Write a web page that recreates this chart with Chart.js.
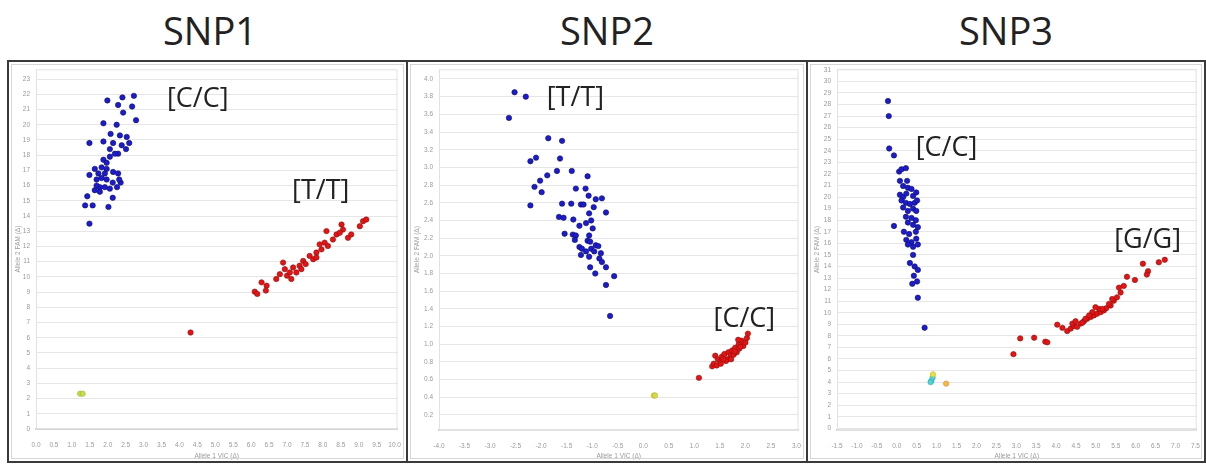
<!DOCTYPE html>
<html>
<head>
<meta charset="utf-8">
<script src="https://cdn.jsdelivr.net/npm/chart.js@4.4.1/dist/chart.umd.min.js"></script>
<style>
  html, body { margin: 0; padding: 0; background: #ffffff; }
  body { width: 1206px; height: 465px; position: relative; overflow: hidden; font-family: "Open Sans", sans-serif; }
  .title { position: absolute; top: 4px; width: 300px; text-align: center; font-size: 38px; color: #222; line-height: 52px; }
  .panel { position: absolute; top: 60px; height: 403px; }
  .panel canvas { position: absolute; left: 0; top: 0; }
  .frame { position: absolute; top: 60px; height: 403px; box-sizing: border-box; border: 2px solid #3a3a3a; pointer-events: none; }
  .inner { position: absolute; left: 2px; top: 2px; right: 2px; bottom: 2px; border: 1px solid #d6d6d6; }
</style>
</head>
<body>
<div class="title" style="left:60px;">SNP1</div>
<div class="title" style="left:457px;">SNP2</div>
<div class="title" style="left:856px;">SNP3</div>

<div class="panel" style="left:7px;width:399px;"><canvas id="c1" width="399" height="403"></canvas></div>
<div class="panel" style="left:406px;width:400px;"><canvas id="c2" width="400" height="403"></canvas></div>
<div class="panel" style="left:806px;width:399px;"><canvas id="c3" width="399" height="403"></canvas></div>
<div class="frame" style="left:7px;width:401px;"><div class="inner"></div></div>
<div class="frame" style="left:406px;width:402px;"><div class="inner"></div></div>
<div class="frame" style="left:806px;width:400px;"><div class="inner"></div></div>

<script>
// ---------------- DATA ----------------
const xTitle = "Allele 1 VIC (Δ)";
const yTitle = "Allele 2 FAM (Δ)";

// SNP1
const snp1XLabels = ["0.0","0.5","1.0","1.5","2.0","2.5","3.0","3.5","4.0","4.5","5.0","5.5","6.0","6.5","7.0","7.5","8.0","8.5","9.0","9.5","10.0"];
const snp1YLabels = ["0","1","2","3","4","5","6","7","8","9","10","11","12","13","14","15","16","17","18","19","20","21","22","23"];
const snp1Blue = [[1.99,21.6],[2.41,21.8],[2.73,21.9],[2.29,21.3],[2.68,21.2],[2.43,20.8],[2.79,20.3],[1.88,20.1],[2.25,20.0],[2.08,19.4],[2.34,19.3],[2.53,19.2],[1.49,18.8],[1.88,18.9],[2.15,18.8],[2.60,18.8],[2.39,18.65],[2.06,18.4],[2.51,18.4],[2.29,18.1],[1.88,17.7],[2.06,17.9],[1.64,17.1],[1.83,17.2],[1.97,17.1],[1.49,16.7],[1.74,16.8],[1.92,16.8],[2.15,16.9],[2.29,16.8],[1.69,16.4],[1.83,16.5],[1.97,16.4],[2.14,16.2],[2.36,16.2],[1.78,15.9],[1.92,15.9],[2.06,15.8],[1.64,15.7],[2.26,15.9],[1.43,15.3],[2.14,15.2],[1.78,15.6],[1.37,14.7],[1.58,14.7],[2.02,14.6],[1.49,13.5],[1.97,17.5],[2.20,18.1],[1.69,16.0],[2.32,16.4]];
const snp1Red = [[6.10,9.03],[6.17,8.88],[6.29,9.64],[6.43,9.42],[6.41,9.10],[6.70,9.86],[6.80,10.18],[6.89,10.94],[6.94,10.51],[7.00,10.08],[7.12,9.86],[7.17,10.62],[7.26,10.29],[7.35,10.73],[7.45,11.05],[7.52,10.84],[7.63,11.38],[7.73,11.16],[7.82,11.60],[7.96,11.81],[8.05,12.25],[8.14,12.03],[8.10,13.01],[8.28,12.46],[8.38,12.79],[8.52,13.44],[8.56,13.11],[8.70,12.57],[8.79,12.79],[9.03,13.33],[9.12,13.66],[9.21,13.77],[7.40,10.51],[7.08,10.29],[7.82,11.27],[8.47,12.90],[7.91,12.14],[4.31,6.34]];
const snp1Ntc = [[1.23,2.32],[1.30,2.32]];
const snp1Calls = [["[C/C]",4.51,21.7],["[T/T]",7.94,15.6]];

// SNP2
const snp2XLabels = ["-4.0","-3.5","-3.0","-2.5","-2.0","-1.5","-1.0","-0.5","0.0","0.5","1.0","1.5","2.0","2.5","3.0"];
const snp2YLabels = ["0.2","0.4","0.6","0.8","1.0","1.2","1.4","1.6","1.8","2.0","2.2","2.4","2.6","2.8","3.0","3.2","3.4","3.6","3.8","4.0"];
const snp2Blue = [[-2.52,3.85],[-2.30,3.80],[-2.63,3.56],[-1.86,3.33],[-1.59,3.30],[-2.21,3.07],[-2.10,3.11],[-1.63,3.10],[-1.88,2.91],[-1.69,2.96],[-1.40,2.96],[-1.09,2.90],[-2.02,2.85],[-2.13,2.78],[-1.99,2.72],[-1.32,2.76],[-1.13,2.76],[-2.21,2.57],[-1.59,2.59],[-1.41,2.59],[-1.22,2.58],[-1.17,2.58],[-1.07,2.68],[-0.93,2.64],[-0.81,2.65],[-0.97,2.55],[-0.73,2.49],[-1.65,2.44],[-1.56,2.43],[-1.06,2.48],[-1.37,2.41],[-1.12,2.37],[-1.25,2.34],[-1.02,2.40],[-0.99,2.31],[-1.54,2.25],[-1.38,2.24],[-1.32,2.23],[-1.06,2.23],[-1.34,2.18],[-1.09,2.17],[-1.04,2.16],[-1.25,2.10],[-1.20,2.08],[-0.93,2.12],[-0.88,2.11],[-1.02,2.08],[-1.12,2.05],[-0.96,2.05],[-0.83,2.03],[-1.22,2.01],[-1.06,1.99],[-0.86,1.97],[-0.81,1.93],[-1.04,1.87],[-0.73,1.87],[-0.94,1.80],[-0.57,1.77],[-0.73,1.67],[-0.65,1.32]];
const snp2Red = [[1.09,0.62],[1.35,0.75],[1.38,0.78],[1.41,0.87],[1.46,0.83],[1.51,0.80],[1.54,0.86],[1.59,0.89],[1.64,0.83],[1.67,0.91],[1.71,0.87],[1.74,0.93],[1.77,0.88],[1.80,0.96],[1.83,0.91],[1.87,1.00],[1.88,0.95],[1.93,1.04],[1.96,0.98],[2.00,1.02],[2.03,1.07],[2.05,1.12],[1.86,1.05],[1.44,0.76],[1.52,0.78],[1.62,0.81],[1.72,0.83],[1.57,0.83],[1.79,0.92],[1.90,0.97]];
const snp2Ntc = [[0.21,0.42],[0.23,0.42]];
const snp2Calls = [["[T/T]",-1.33,3.78],["[C/C]",1.98,1.28]];

// SNP3
const snp3XLabels = ["-1.5","-1.0","-0.5","0.0","0.5","1.0","1.5","2.0","2.5","3.0","3.5","4.0","4.5","5.0","5.5","6.0","6.5","7.0","7.5"];
const snp3YLabels = ["0","1","2","3","4","5","6","7","8","9","10","11","12","13","14","15","16","17","18","19","20","21","22","23","24","25","26","27","28","29","30","31"];
const snp3Blue = [[-0.22,28.3],[-0.20,27.0],[-0.19,24.2],[-0.07,23.6],[0.06,22.2],[0.12,22.4],[0.23,22.5],[0.26,21.4],[0.08,21.4],[0.16,20.95],[0.28,20.8],[0.37,20.7],[0.08,20.2],[0.16,20.0],[0.24,20.3],[0.41,20.1],[0.49,20.4],[0.12,19.7],[0.23,19.5],[0.33,19.4],[0.45,19.5],[0.51,19.7],[0.16,19.1],[0.28,18.8],[0.41,19.0],[0.49,18.8],[0.23,18.3],[0.37,18.2],[0.48,18.0],[0.28,17.8],[0.41,17.6],[0.53,17.4],[-0.07,17.5],[0.18,17.0],[0.31,16.8],[0.48,17.0],[0.24,16.3],[0.37,16.1],[0.49,16.4],[0.28,15.9],[0.41,15.7],[0.53,15.9],[0.41,15.0],[0.33,14.3],[0.45,14.0],[0.53,13.7],[0.43,13.2],[0.51,12.7],[0.39,12.5],[0.53,11.3],[0.70,8.7]];
const snp3Red = [[2.93,6.42],[3.10,7.78],[3.45,7.84],[3.73,7.50],[3.78,7.44],[4.03,8.97],[4.16,8.69],[4.28,8.41],[4.37,8.63],[4.45,8.86],[4.53,8.78],[4.62,9.06],[4.70,9.26],[4.78,9.48],[4.87,9.63],[4.95,9.77],[5.03,9.91],[5.12,10.05],[5.20,10.20],[5.26,10.39],[5.37,10.62],[5.45,11.04],[5.53,11.33],[5.62,11.75],[5.78,13.11],[5.98,12.83],[6.18,14.24],[6.31,13.59],[6.28,13.30],[6.58,14.36],[6.73,14.58],[4.91,10.05],[4.83,9.77],[5.08,10.33],[4.99,10.48],[5.16,10.33],[5.33,10.76],[5.41,11.18],[4.74,9.48],[4.66,9.14],[4.41,9.06],[4.49,9.26],[5.58,12.17],[5.70,12.32]];
const snp3NtcYellow = [[0.91,4.67]];
const snp3NtcCyan = [[0.87,4.10],[0.90,4.38],[0.85,4.00]];
const snp3NtcOrange = [[1.24,3.87]];
const snp3Calls = [["[C/C]",1.25,24.2],["[G/G]",6.30,16.25]];

// ---------------- RENDER ----------------
const toXY = arr => arr.map(p => ({x: p[0], y: p[1]}));

const callPlugin = {
  id: 'calls',
  afterDatasetsDraw(chart, args, opts) {
    const ctx = chart.ctx;
    ctx.save();
    ctx.font = '27px "Open Sans", sans-serif';
    ctx.fillStyle = '#222';
    ctx.textAlign = 'center';
    ctx.textBaseline = 'middle';
    (opts.items || []).forEach(it => {
      ctx.fillText(it[0], chart.scales.x.getPixelForValue(it[1]), chart.scales.y.getPixelForValue(it[2]));
    });
    ctx.restore();
  }
};
const areaPlugin = {
  id: 'areaFrame',
  beforeDatasetsDraw(chart) {
    const a = chart.chartArea, ctx = chart.ctx;
    ctx.save();
    ctx.strokeStyle = '#e2e2e2';
    ctx.lineWidth = 1;
    ctx.strokeRect(a.left + 0.5, a.top + 0.5, a.right - a.left - 1, a.bottom - a.top - 1);
    ctx.restore();
  }
};

function ds(points, fill, border) {
  return { data: toXY(points), backgroundColor: fill, borderColor: border, borderWidth: 0.6, pointRadius: 2.7, pointHoverRadius: 2.7 };
}

function makeChart(id, cfg) {
  const tickFont = { family: 'Liberation Sans', size: 6.5, lineHeight: 1 };
  new Chart(document.getElementById(id), {
    type: 'scatter',
    data: { datasets: cfg.datasets },
    plugins: [areaPlugin, callPlugin],
    options: {
      responsive: false,
      animation: false,
      events: [],
      layout: { padding: cfg.padding },
      plugins: { legend: { display: false }, tooltip: { enabled: false }, calls: { items: cfg.calls } },
      scales: {
        x: {
          type: 'linear', min: cfg.xMin, max: cfg.xMax,
          afterBuildTicks: s => { s.ticks = cfg.xLabels.map(v => ({ value: parseFloat(v) })); },
          afterFit: s => { s.height = cfg.xAxisH; },
          ticks: { font: tickFont, color: '#9a9a9a', padding: 5, maxRotation: 0, autoSkip: false,
                   callback: (v, i) => cfg.xLabels[i] },
          grid: { display: false },
          border: { display: true, color: '#c4c4c4', width: 1.5 },
          title: { display: true, text: xTitle, font: { family: 'Liberation Sans', size: 6.5, lineHeight: 1 }, color: '#9a9a9a', padding: { top: 4, bottom: 0 } }
        },
        y: {
          type: 'linear', min: cfg.yMin, max: cfg.yMax,
          afterBuildTicks: s => { s.ticks = cfg.yLabels.map(v => ({ value: parseFloat(v) })); },
          afterFit: s => { s.width = cfg.yAxisW; },
          ticks: { font: tickFont, color: '#9a9a9a', padding: 6, autoSkip: false,
                   callback: (v, i) => cfg.yLabels[i] },
          grid: { display: true, color: '#e6e6e6', lineWidth: 1, drawTicks: false },
          border: { display: true, color: '#dcdcdc', width: 1 },
          title: { display: true, text: yTitle, font: { family: 'Liberation Sans', size: 6.5, lineHeight: 1 }, color: '#9a9a9a', padding: { top: 8, bottom: 0 } }
        }
      }
    }
  });
}

const blueFill = '#1c1ccc', blueEdge = '#0b0b66';
const redFill = '#e41414', redEdge = '#8a1010';

makeChart('c1', {
  datasets: [ds(snp1Blue, blueFill, blueEdge), ds(snp1Red, redFill, redEdge), ds(snp1Ntc, '#c6dc4a', '#9fb53a')],
  calls: snp1Calls, xLabels: snp1XLabels, yLabels: snp1YLabels,
  xMin: 0, xMax: 10.08, yMin: 0, yMax: 23.65,
  padding: { left: 0, right: 8, top: 5, bottom: 4 }, yAxisW: 29, xAxisH: 30
});
makeChart('c2', {
  datasets: [ds(snp2Blue, blueFill, blueEdge), ds(snp2Red, redFill, redEdge), ds(snp2Ntc, '#d8dc40', '#b0b030')],
  calls: snp2Calls, xLabels: snp2XLabels, yLabels: snp2YLabels,
  xMin: -4.0, xMax: 3.04, yMin: 0.03, yMax: 4.11,
  padding: { left: 0, right: 6, top: 5, bottom: 4 }, yAxisW: 33, xAxisH: 29
});
makeChart('c3', {
  datasets: [ds(snp3Blue, blueFill, blueEdge), ds(snp3Red, redFill, redEdge),
             ds(snp3NtcYellow, '#e6e040', '#c0b830'), ds(snp3NtcCyan, '#4fd2d6', '#2fa8b0'), ds(snp3NtcOrange, '#f4b845', '#d09030')],
  calls: snp3Calls, xLabels: snp3XLabels, yLabels: snp3YLabels,
  xMin: -1.5, xMax: 7.53, yMin: -0.14, yMax: 31.05,
  padding: { left: 0, right: 7, top: 3, bottom: 4 }, yAxisW: 31, xAxisH: 29
});
</script>
</body>
</html>
